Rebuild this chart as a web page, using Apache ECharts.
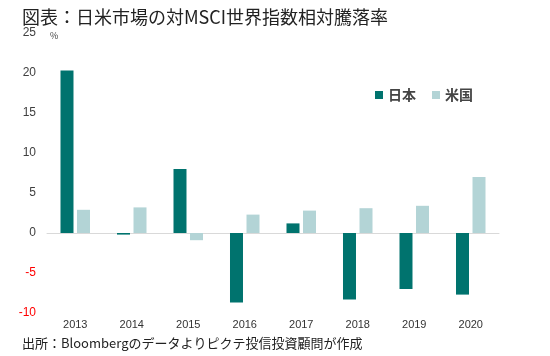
<!DOCTYPE html>
<html><head><meta charset="utf-8">
<script src="https://cdn.jsdelivr.net/npm/echarts@6/dist/echarts.min.js"></script>
<style>html,body{margin:0;padding:0;background:#fff}#c{width:550px;height:356px}</style>
</head><body><div id="c"></div>
<script>
const categories = ['2013','2014','2015','2016','2017','2018','2019','2020'];
const japan = [20.3, -0.2, 8.0, -8.7, 1.2, -8.3, -7.0, -7.7];
const usa = [2.9, 3.2, -0.9, 2.3, 2.8, 3.1, 3.4, 7.0];
const seriesNames = ['日本', '米国'];
const titleText = '図表：日米市場の対MSCI世界指数相対騰落率';
const sourceText = '出所：Bloombergのデータよりピクテ投信投資顧問が作成';
const unitText = '%';

const font = '"Noto Sans CJK JP", "Noto Sans", sans-serif';
const chart = echarts.init(document.getElementById('c'));
chart.setOption({
  animation: false,
  textStyle: { fontFamily: font },
  title: [
    { text: titleText, left: 17, top: 3, textStyle: { fontSize: 18, fontWeight: 'normal', color: '#222', fontFamily: font } },
    { text: sourceText, left: 17, top: 332, textStyle: { fontSize: 13, fontWeight: 'normal', color: '#222', fontFamily: font } },
    { text: unitText, left: 45, top: 26, textStyle: { fontSize: 9, fontWeight: 'normal', color: '#444', fontFamily: font } }
  ],
  legend: {
    data: seriesNames, left: 370, top: 83, itemWidth: 8, itemHeight: 8, itemGap: 16,
    icon: 'rect',
    textStyle: { fontSize: 14, fontWeight: 'bold', color: '#444', fontFamily: font }
  },
  grid: { left: 47, right: 51, top: 33, bottom: 43 },
  xAxis: {
    type: 'category', data: categories,
    axisTick: { show: false },
    axisLabel: { fontSize: 11, color: '#333', margin: 6, fontFamily: 'Liberation Sans, sans-serif',
      verticalAlign: 'top' },
    position: 'bottom', axisLine: { onZero: true, lineStyle: { color: '#d9d9d9' } }
  },
  yAxis: {
    type: 'value', min: -10, max: 25, interval: 5,
    splitLine: { show: false },
    axisLine: { show: false }, axisTick: { show: false },
    axisLabel: {
      margin: 11, fontSize: 12, fontFamily: 'Liberation Sans, sans-serif',
      formatter: v => v < 0 ? '{n|' + v + '}' : '{p|' + v + '}',
      rich: { n: { color: '#ff0000', fontSize: 12 }, p: { color: '#404040', fontSize: 12 } }
    }
  },
  series: [
    { name: seriesNames[0], type: 'bar', data: japan, barWidth: 13, barGap: '27%',
      itemStyle: { color: '#00736e' } },
    { name: seriesNames[1], type: 'bar', data: usa, barWidth: 13,
      itemStyle: { color: '#b3d4d6' } }
  ]
});
</script></body></html>
